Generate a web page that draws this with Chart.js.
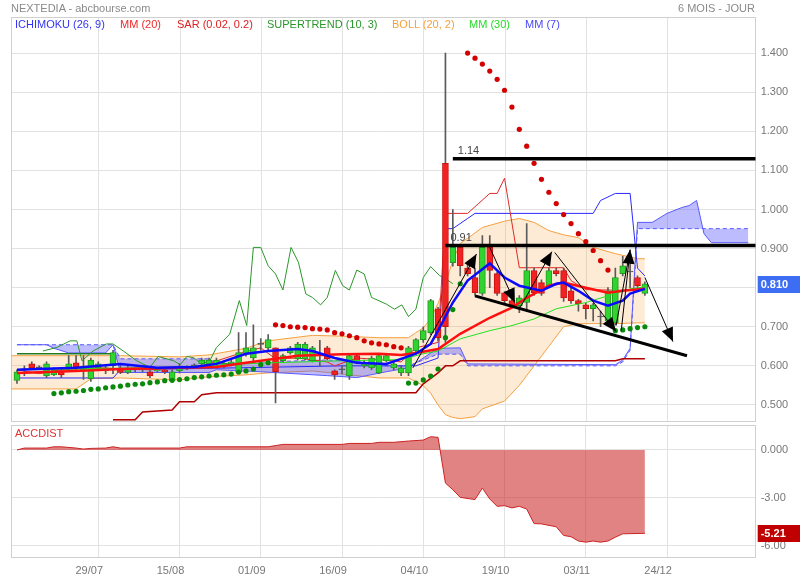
<!DOCTYPE html>
<html><head><meta charset="utf-8">
<script src="https://cdn.jsdelivr.net/npm/chart.js@4.4.1/dist/chart.umd.min.js"></script>
<style>
html,body{margin:0;padding:0;background:#fff;}
#wrap{position:relative;width:800px;height:580px;overflow:hidden;font-family:"Liberation Sans",Arial,sans-serif;}
canvas{position:absolute;left:0;}
.t{position:absolute;font-size:11px;line-height:13px;white-space:pre;}
</style></head><body>
<div id="wrap">
<canvas id="main" width="800" height="426" style="top:0px"></canvas>
<canvas id="acc" width="800" height="158" style="top:422px"></canvas>
<div class="t" style="left:11px;top:2px;color:#8a8a8a">NEXTEDIA - abcbourse.com</div>
<div class="t" style="right:45px;top:2px;color:#8a8a8a">6 MOIS - JOUR</div>
<div class="t" style="left:15px;top:18px;color:#3434f0">ICHIMOKU (26, 9)</div>
<div class="t" style="left:120px;top:18px;color:#ee2a2a">MM (20)</div>
<div class="t" style="left:177px;top:18px;color:#dd2020">SAR (0.02, 0.2)</div>
<div class="t" style="left:267px;top:18px;color:#2a962a">SUPERTREND (10, 3)</div>
<div class="t" style="left:392px;top:18px;color:#f5a040">BOLL (20, 2)</div>
<div class="t" style="left:469px;top:18px;color:#2ad82a">MM (30)</div>
<div class="t" style="left:525px;top:18px;color:#4848f5">MM (7)</div>
<div class="t" style="left:15px;top:427px;color:#dd3333">ACCDIST</div>
</div>
<script>
// ---------- DATA ----------
const xTickPos = [11, 22, 33, 44, 55, 66, 77, 88];
const xTickLabels = ['29/07','15/08','01/09','16/09','04/10','19/10','03/11','24/12'];
const yTicksMain = [0.5,0.6,0.7,0.8,0.9,1.0,1.1,1.2,1.3,1.4];
const yTicksAcc = [0, -3, -6];
const yTickLabelsAcc = ['0.000','-3.00','-6.00'];

const candleOpen = [.563,.59,.605,.595,.574,.577,.587,.595,.608,.587,
 .567,.595,.587,.60,.593,.583,.59,.59,.585,.587,
 .589,.562,.587,.595,.60,.605,.605,.605,.60,.605,
 .583,.63,.62,.655,.646,.646,.613,.633,.618,.618,
 .613,.628,.646,.587,.59,.574,.626,.60,.595,.582,
 .613,.595,.582,.582,.638,.667,.685,.746,1.118,.864,
 .903,.85,.826,.785,.903,.836,.787,.767,.754,.762,
 .844,.813,.805,.844,.844,.792,.767,.756,.746,.725,
 .715,.71,.836,.84,.826,.785];
const candleHigh = [.59,.60,.61,.60,.61,.595,.59,.626,.626,.626,
 .62,.61,.60,.64,.60,.60,.595,.595,.59,.595,
 .595,.59,.605,.60,.605,.62,.62,.62,.61,.615,
 .685,.685,.705,.67,.68,.646,.63,.65,.66,.66,
 .65,.665,.65,.59,.60,.63,.63,.615,.625,.63,
 .63,.61,.60,.65,.67,.70,.77,.75,1.40,1.00,
 .91,.86,.85,.933,.933,.84,.79,.77,.78,.964,
 .85,.82,.85,.85,.85,.80,.77,.76,.76,.74,
 .80,.85,.88,.87,.83,.815];
const candleLow = [.555,.575,.59,.59,.57,.575,.57,.59,.585,.565,
 .56,.59,.58,.58,.58,.58,.585,.585,.57,.585,
 .58,.558,.582,.59,.595,.60,.60,.60,.595,.60,
 .58,.625,.61,.64,.64,.505,.61,.63,.615,.615,
 .61,.60,.615,.565,.58,.565,.61,.595,.59,.58,
 .61,.59,.575,.575,.63,.66,.68,.665,.66,.855,
 .83,.83,.78,.78,.80,.78,.76,.75,.736,.74,
 .78,.78,.80,.83,.765,.76,.74,.72,.715,.70,
 .71,.705,.83,.80,.79,.78];
const candleClose = [.585,.59,.595,.595,.605,.59,.577,.605,.597,.595,
 .615,.605,.595,.634,.583,.595,.59,.59,.574,.59,
 .585,.585,.595,.595,.60,.615,.615,.615,.607,.61,
 .634,.646,.646,.655,.667,.585,.626,.646,.656,.656,
 .646,.628,.618,.577,.59,.626,.613,.608,.62,.626,
 .626,.605,.595,.646,.667,.69,.767,.672,.70,.903,
 .856,.836,.787,.903,.844,.785,.767,.756,.774,.844,
 .787,.785,.844,.836,.774,.767,.759,.746,.756,.725,
 .792,.826,.856,.84,.805,.81];

const mm7 = [[0,.59],[8,.595],[14,.605],[19,.595],[24,.597],[27,.605],[31,.631],[34,.638],[38,.643],[40,.638],[43,.62],[46,.608],[50,.605],[52,.618],[54,.631],[56,.656],[57,.69],[59,.762],[61,.818],[64,.862],[66,.826],[68,.805],[71,.792],[73,.81],[74,.813],[76,.792],[78,.767],[80,.754],[82,.767],[83,.785],[85,.797]];
const mm20 = [[0,.582],[8,.587],[14,.592],[22,.595],[27,.597],[31,.608],[38,.626],[44,.63],[49,.631],[52,.628],[54,.633],[57,.643],[60,.682],[64,.723],[67,.749],[69,.774],[72,.805],[74,.813],[77,.80],[80,.787],[82,.792],[85,.797]];
const mm30 = [[0,.59],[11,.593],[22,.597],[33,.607],[44,.613],[52,.616],[55,.631],[57,.638],[60,.669],[64,.69],[67,.703],[70,.72],[73,.746],[77,.762],[80,.779],[83,.797],[85,.802]];

const bollIdx   = [-1,8,10,14,22,26,31,34,40,44,49,53,54,55,56,57,58,59,60,62,63,66,68,70,72,74,76,78,81,84,85];
const bollUpper = [.626,.626,.626,.626,.623,.628,.645,.664,.678,.676,.672,.672,.685,.697,.72,.76,.81,.87,.913,.94,.954,.97,.977,.967,.946,.935,.928,.903,.887,.874,.874];
const bollLower = [.541,.541,.567,.569,.564,.572,.577,.582,.587,.579,.569,.569,.56,.549,.53,.50,.475,.468,.465,.47,.49,.51,.55,.60,.65,.70,.708,.708,.708,.71,.71];

const sarRed = [[35,.705],[36,.703],[37,.700],[38,.699],[39,.698],[40,.695],[41,.694],[42,.692],[43,.685],[44,.682],[45,.677],[46,.672],[47,.664],[48,.659],[49,.656],[50,.654],[51,.649],[52,.646],
 [61,1.40],[62,1.387],[63,1.372],[64,1.354],[65,1.333],[66,1.305],[67,1.262],[68,1.205],[69,1.162],[70,1.118],[71,1.077],[72,1.044],[73,1.015],[74,.987],[75,.964],[76,.938],[77,.918],[78,.895],[79,.869],[80,.845]];
const sarGreen = [[5,.529],[6,.531],[7,.534],[8,.535],[9,.537],[10,.540],[11,.541],[12,.544],[13,.546],[14,.548],[15,.551],[16,.553],[17,.554],[18,.557],[19,.559],[20,.562],[21,.563],[22,.565],[23,.567],[24,.570],[25,.572],[26,.574],[27,.576],[28,.577],[29,.579],[30,.584],[31,.587],[32,.592],[33,.603],[34,.608],
 [53,.556],[54,.556],[55,.564],[56,.574],[57,.592],[58,.672],[59,.744],[60,.81],
 [81,.69],[82,.692],[83,.695],[84,.698],[85,.70]];

const superGreen = [[0,.631],[13,.631]];
const superRed = [[13,.462],[16,.462],[17,.482],[21,.487],[22,.508],[24,.508],[25,.526],[27,.531],[54,.531],[55,.554],[57,.582],[58,.60],[59,.60],[60,.613],[81,.613],[82,.618],[85,.618]];

const chikou = [[3.5,.638],[5.4,.647],[7.2,.664],[8.1,.664],[8.8,.613],[10.3,.638],[12.1,.656],[13,.656],[14.4,.638],[16.2,.613],[18,.596],[19.1,.624],[21.2,.613],[22.1,.603],[23,.624],[23.9,.621],[25,.605],[26.1,.613],[27,.647],[28.8,.681],[30.1,.767],[31.1,.703],[32,.903],[33,.903],[34,.856],[35,.835],[36,.794],[37.1,.903],[38.1,.865],[39.1,.784],[40,.775],[41.1,.756],[42,.775],[43.1,.844],[44.1,.805],[45,.794],[46,.845],[47,.835],[48,.775],[50,.758],[51.1,.745],[52.1,.756],[53,.726],[54,.745],[55,.826],[56,.854],[57.2,.831],[58.1,.822],[59,.81]];
const tenkan = [[0,.59],[3,.58],[6,.59],[11,.595],[18,.59],[25,.60],[30,.631],[33,.646],[35,.618],[38,.62],[42,.61],[43,.60],[46,.62],[50,.615],[52,.61],[54,.646],[57,.66],[58,.99],[61,.99],[64,1.041],[65,1.041],[66,1.08],[68,.851],[74,.851],[75,.818],[77,.795],[85,.792]];
const kijun = [[0,.569],[13,.569],[14,.59],[30,.595],[44,.60],[54,.60],[57,.62],[58,.951],[59,.951],[61,.977],[62,.99],[78,.99],[79,1.023],[81,1.041],[83,1.041],[84,.85],[85,.83]];
const cloudIdx = [0,4,5,7,12,13,14,26,27,33,42,46,50,53,57,60,61,81,82,83,84,86,88,90,91,92,93,94,99];
const senkouA  = [.654,.654,.654,.654,.654,.654,.618,.618,.605,.61,.615,.612,.60,.60,.63,.63,.60,.60,.61,.64,.951,.951,.951,.951,.951,.951,.951,.951,.951];
const senkouB  = [.654,.654,.645,.633,.633,.654,.583,.583,.59,.585,.575,.57,.585,.595,.645,.646,.605,.603,.615,.645,.967,.967,.99,1.005,1.01,1.023,.938,.915,.915];

const levelValues = [1.13, 0.908];
const levelLabels = ['1.14', '0.91'];
const levelStart = [59, 58];
const trendLine = [[62, .779], [90.7, .626]];
const arrows = [
  [[53.6,.595],[62.2,.886]],
  [[64,.903],[67.4,.762]],
  [[68.1,.749],[72.4,.892]],
  [[72.8,.89],[81.1,.688]],
  [[81.8,.69],[83,.897]],
  [[81.1,.703],[83,.897]],
  [[85,.826],[88.8,.662]]
];
const arrowHasHead = [true,true,true,true,true,false,true];

const accIdx = [0,1,4,5,6,8,9,10,12,13,14,22,23,34,36,44,45,48,49,51,53,55,56,57,58,59,60,62,63,64,65,66,67,68,69,70,71,73,74,75,76,77,78,79,80,81,82,85];
const accVal = [0,.12,.12,.2,.2,.12,.06,.1,.12,.2,.12,.12,.2,.2,.35,.35,.41,.41,.48,.48,.56,.62,.83,.79,-2.07,-2.48,-2.96,-3.1,-2.38,-3.06,-3.52,-3.48,-3.62,-3.52,-3.69,-4.6,-4.62,-4.8,-5.34,-5.42,-5.69,-5.76,-5.69,-5.76,-5.69,-5.45,-5.24,-5.21];

// ---------- SCALE RANGES ----------
const xMin = -0.81, xMax = 100;
const yMinMain = 0.4564, yMaxMain = 1.4923;
const yMinAcc = -6.77, yMaxAcc = 1.5625;

// ---------- HELPERS ----------
const P = arr => arr.map(([x, y]) => ({x, y}));
const Z = (idx, vals) => idx.map((x, k) => ({x, y: vals[k]}));
const FONT = "'Liberation Sans', Arial, sans-serif";
Chart.defaults.font.family = FONT;
Chart.defaults.font.size = 11;
Chart.defaults.color = '#777';
const GRID = '#e2e2e2';

const GREEN = '#30d430', GREEN_B = '#1f9a1f', RED = '#f02222', RED_B = '#c81212', DOJI = '#555';
const bodyColor = candleOpen.map((o, i) => candleClose[i] > o ? GREEN : candleClose[i] < o ? RED : DOJI);
const bodyBorder = candleOpen.map((o, i) => candleClose[i] > o ? GREEN_B : candleClose[i] < o ? RED_B : DOJI);

const line = (data, color, width, order, extra) => Object.assign({
  type: 'line', data, borderColor: color, borderWidth: width, pointRadius: 0, fill: false, order, tension: 0
}, extra || {});
const dots = (data, color, order) => ({
  type: 'line', data, showLine: false, pointRadius: 2.6, pointBackgroundColor: color,
  pointBorderWidth: 0, borderColor: color, order
});
const noPad = s => { s.paddingTop = 0; s.paddingBottom = 0; s.paddingLeft = 0; s.paddingRight = 0; };

// ---------- PLUGINS ----------
const framePlugin = {
  id: 'frame',
  beforeDatasetsDraw(chart) {
    const {ctx, chartArea: a} = chart;
    ctx.save();
    ctx.strokeStyle = '#d0d0d0';
    ctx.lineWidth = 1;
    ctx.strokeRect(Math.round(a.left) + 0.5, Math.round(a.top) + 0.5,
      Math.round(a.right - a.left) - 1, Math.round(a.bottom - a.top) - 1);
    ctx.restore();
  }
};
const vGridPlugin = {
  id: 'vgrid',
  beforeDatasetsDraw(chart) {
    const {ctx, chartArea: a, scales} = chart;
    ctx.save();
    ctx.strokeStyle = GRID;
    ctx.lineWidth = 1;
    xTickPos.forEach(v => {
      const px = Math.round(scales.x.getPixelForValue(v)) + 0.5;
      ctx.beginPath(); ctx.moveTo(px, a.top); ctx.lineTo(px, a.bottom); ctx.stroke();
    });
    ctx.restore();
  }
};
const arrowPlugin = {
  id: 'arrowHeads',
  afterDatasetsDraw(chart) {
    const ctx = chart.ctx;
    chart.data.datasets.forEach((ds, i) => {
      if (!ds.arrowHead) return;
      const pts = chart.getDatasetMeta(i).data;
      const a = pts[pts.length - 2], b = pts[pts.length - 1];
      const ang = Math.atan2(b.y - a.y, b.x - a.x);
      const L = 14, W = 6;
      const c = Math.cos(ang), s = Math.sin(ang);
      ctx.save();
      ctx.fillStyle = '#000';
      ctx.beginPath();
      ctx.moveTo(b.x, b.y);
      ctx.lineTo(b.x - L * c + W * s, b.y - L * s - W * c);
      ctx.lineTo(b.x - L * c - W * s, b.y - L * s + W * c);
      ctx.closePath();
      ctx.fill();
      ctx.restore();
    });
  }
};
const levelTextPlugin = {
  id: 'levelText',
  afterDatasetsDraw(chart) {
    const {ctx, scales} = chart;
    ctx.save();
    ctx.fillStyle = '#444';
    ctx.font = '11px ' + FONT;
    ctx.textBaseline = 'bottom';
    ctx.textAlign = 'left';
    levelValues.forEach((v, k) => {
      ctx.fillText(levelLabels[k], scales.x.getPixelForValue(levelStart[k]) + 5, scales.y.getPixelForValue(v) - 2);
    });
    ctx.restore();
  }
};
const lastBox = (val, text, color) => ({
  id: 'lastBox',
  afterDraw(chart) {
    const {ctx, chartArea} = chart;
    const y = chart.scales.y.getPixelForValue(val);
    ctx.save();
    ctx.fillStyle = color;
    ctx.fillRect(chartArea.right + 2, Math.round(y) - 8, chart.width - chartArea.right - 2, 17);
    ctx.fillStyle = '#fff';
    ctx.font = 'bold 11px ' + FONT;
    ctx.textBaseline = 'middle';
    ctx.textAlign = 'left';
    ctx.fillText(text, chartArea.right + 5, Math.round(y) + 0.5);
    ctx.restore();
  }
});

// ---------- MAIN CHART ----------
const datasets = [
  line(Z(bollIdx, bollUpper), '#f5a040', 1, 100, {fill: '+1', backgroundColor: 'rgba(247,160,60,0.21)'}),
  line(Z(bollIdx, bollLower), '#f5a040', 1, 100),
  line(Z(cloudIdx, senkouA), '#5a5aff', 1, 95, {borderDash: [4, 3]}),
  line(Z(cloudIdx, senkouB), '#5a5aff', 1, 95, {fill: '-1', backgroundColor: 'rgba(80,80,255,0.38)'}),
  line(P(chikou), '#2a962a', 1, 60),
  line(P(superGreen), '#1f7a1f', 1.5, 60),
  line(P(superRed), '#b00000', 1.5, 60),
  line(P(tenkan), '#e02a2a', 1, 55),
  line(P(kijun), '#2a2aff', 1, 55),
  {
    type: 'bar', data: candleLow.map((l, i) => ({x: i, y: [l, candleHigh[i]]})),
    backgroundColor: '#5a5a5a', barThickness: 1, grouped: false, order: 40
  },
  {
    type: 'bar', data: candleOpen.map((o, i) => ({x: i, y: [o, candleClose[i]]})),
    backgroundColor: bodyColor, borderColor: bodyBorder, borderWidth: 1, borderSkipped: false,
    barThickness: 6, grouped: false, minBarLength: 1, order: 39
  },
  line(P(mm30), '#22e022', 1, 30),
  line(P(mm20), '#ff1010', 2.5, 25),
  line(P(mm7), '#0a0aff', 2.5, 20),
  dots(P(sarRed), '#d40000', 15),
  dots(P(sarGreen), '#0a8a0a', 15),
  ...levelValues.map((v, k) => line([{x: levelStart[k], y: v}, {x: xMax, y: v}], '#000', 3.5, 5)),
  line(P(trendLine), '#000', 3, 5),
  ...arrows.map((a, k) => line(P(a), '#000', 1, 4, {arrowHead: arrowHasHead[k]}))
];

new Chart(document.getElementById('main'), {
  type: 'line',
  data: {datasets},
  options: {
    responsive: false, animation: false, events: [],
    layout: {padding: {left: 11, top: 17, right: 0, bottom: 1}},
    plugins: {legend: {display: false}, tooltip: {enabled: false}},
    scales: {
      x: {
        type: 'linear', min: xMin, max: xMax, offset: false, display: false,
        grid: {offset: false}
      },
      y: {
        type: 'linear', position: 'right', min: yMinMain, max: yMaxMain,
        afterBuildTicks: s => { s.ticks = yTicksMain.map(v => ({value: v})); },
        afterFit: s => { s.width = 44.3; noPad(s); },
        grid: {color: GRID, drawTicks: false},
        border: {display: false},
        ticks: {padding: 5, color: '#777', callback: v => Number(v).toFixed(3)}
      }
    }
  },
  plugins: [vGridPlugin, framePlugin, arrowPlugin, levelTextPlugin,
    lastBox(candleClose[candleClose.length - 1], candleClose[candleClose.length - 1].toFixed(3), '#3d6df2')]
});

// ---------- ACCDIST CHART ----------
new Chart(document.getElementById('acc'), {
  type: 'line',
  data: {datasets: [
    line(Z(accIdx, accVal), '#cc2222', 1, 1, {fill: 'origin', backgroundColor: 'rgba(200,30,30,0.55)'})
  ]},
  options: {
    responsive: false, animation: false, events: [],
    layout: {padding: {left: 11, top: 3, right: 0, bottom: 0}},
    plugins: {legend: {display: false}, tooltip: {enabled: false}},
    scales: {
      x: {
        type: 'linear', min: xMin, max: xMax, offset: false,
        afterBuildTicks: s => { s.ticks = xTickPos.map(v => ({value: v})); },
        afterFit: s => { s.height = 21.7; noPad(s); },
        grid: {color: GRID, drawTicks: false, offset: false},
        border: {display: false},
        ticks: {padding: 6, labelOffset: -9, autoSkip: false, maxRotation: 0, color: '#777',
          callback: (v, i) => xTickLabels[i]}
      },
      y: {
        type: 'linear', position: 'right', min: yMinAcc, max: yMaxAcc,
        afterBuildTicks: s => { s.ticks = yTicksAcc.map(v => ({value: v})); },
        afterFit: s => { s.width = 44.3; noPad(s); },
        grid: {color: GRID, drawTicks: false},
        border: {display: false},
        ticks: {padding: 5, color: '#777', callback: (v, i) => yTickLabelsAcc[i]}
      }
    }
  },
  plugins: [framePlugin, lastBox(accVal[accVal.length - 1], accVal[accVal.length - 1].toFixed(2), '#c00000')]
});
</script>
</body></html>
